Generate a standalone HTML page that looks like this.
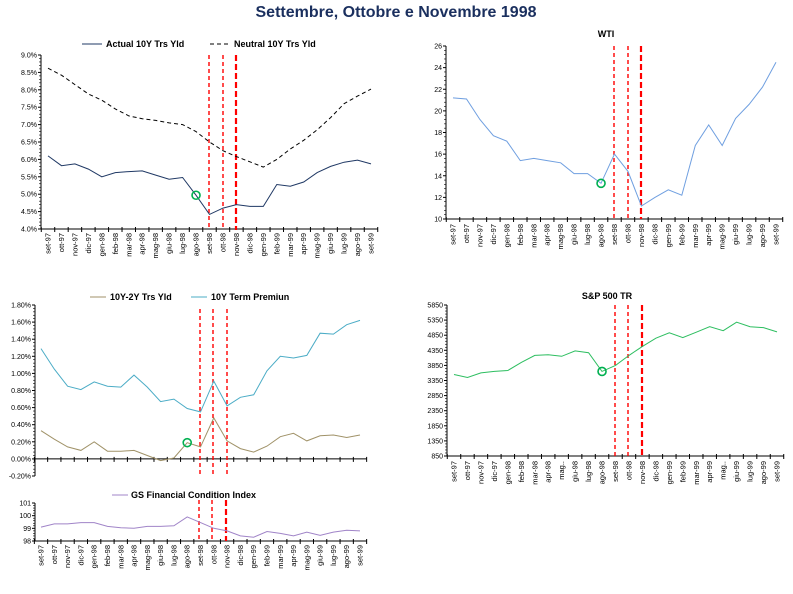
<!DOCTYPE html><html><head><meta charset="utf-8"><style>body{margin:0;background:#fff}svg{display:block;font-family:"Liberation Sans",sans-serif}</style></head><body>
<svg id="s" width="793" height="594" xmlns="http://www.w3.org/2000/svg"></svg>
<script>
const S=document.getElementById('s');let h='';
h+='<text x="396" y="17" text-anchor="middle" font-size="16" font-weight="bold" fill="#1a2f5e">Settembre, Ottobre e Novembre 1998</text>';
const cats=['set-97','ott-97','nov-97','dic-97','gen-98','feb-98','mar-98','apr-98','mag-98','giu-98','lug-98','ago-98','set-98','ott-98','nov-98','dic-98','gen-99','feb-99','mar-99','apr-99','mag-99','giu-99','lug-99','ago-99','set-99'];
function chart(o){
 const X=i=>o.x0+i*(o.x1-o.x0)/24;
 const Y=v=>o.yT+(o.vT-v)/(o.vT-o.vB)*(o.yB-o.yT);
 h+=`<line x1="${o.ax}" y1="${o.yT}" x2="${o.ax}" y2="${o.yB}" stroke="#000" stroke-width="1"/>`;
 const n=Math.round((o.vT-o.vB)/o.step);
 for(let k=0;k<=n;k++){const v=o.vB+k*o.step,y=Y(v);
  h+=`<line x1="${o.ax-3}" y1="${y}" x2="${o.ax}" y2="${y}" stroke="#000"/>`;
  h+=`<text x="${o.ax-4}" y="${y+2.5}" text-anchor="end" font-size="7">${o.fmt(v)}</text>`;
  if(k<n)for(let m=1;m<5;m++){const yy=y-(m/5)*(Y(v)-Y(v+o.step));h+=`<line x1="${o.ax-2}" y1="${yy}" x2="${o.ax}" y2="${yy}" stroke="#000" stroke-width=".6"/>`;}
 }
 const ya=Y(o.xv);const dx=(o.x1-o.x0)/24;
 h+=`<line x1="${o.ax}" y1="${ya}" x2="${o.x1+dx/2}" y2="${ya}" stroke="#000"/>`;
 for(let i=0;i<=25;i++){const x=o.x0-dx/2+i*dx;h+=`<line x1="${x}" y1="${ya-2}" x2="${x}" y2="${ya+3}" stroke="#000"/>`;}
 if(o.labels){cats.forEach((c,i)=>{let t=c;if(o.mag&&(i==8||i==20))t='mag..';h+=`<text transform="translate(${X(i)+2.5},${o.ly}) rotate(-90)" text-anchor="end" font-size="7.5">${t}</text>`;});}
 o.red.forEach((r,j)=>{const th=j==2&&!o.thin;h+=`<line x1="${r}" y1="${o.rT}" x2="${r}" y2="${o.rB}" stroke="#f00" stroke-width="${th?2.2:1.4}" stroke-dasharray="${th?'6,3':'4,3'}"/>`;});
 o.series.forEach(s=>{h+=`<polyline fill="none" stroke="${s.c}" stroke-width="${s.w||1}" ${s.d?'stroke-dasharray="4,3"':''} points="${s.v.map((v,i)=>X(i).toFixed(1)+','+Y(v).toFixed(1)).join(' ')}"/>`;});
 if(o.circ)h+=`<circle cx="${X(11)}" cy="${Y(o.circ)}" r="4" fill="none" stroke="#00b050" stroke-width="1.6"/>`;
}
chart({ax:41,x0:48,x1:371,yT:55,yB:229,vT:9,vB:4,step:.5,xv:4,fmt:v=>v.toFixed(1)+'%',labels:1,ly:233,red:[209,223,236],rT:55,rB:230,circ:4.97,
series:[{c:'#1f3864',v:[6.1,5.82,5.87,5.72,5.5,5.62,5.65,5.67,5.55,5.43,5.48,4.97,4.42,4.6,4.7,4.65,4.65,5.28,5.23,5.35,5.62,5.8,5.92,5.98,5.87]},
{c:'#000',d:1,v:[8.62,8.42,8.15,7.88,7.7,7.45,7.25,7.17,7.12,7.05,7.0,6.8,6.5,6.25,6.08,5.93,5.78,6.0,6.3,6.55,6.85,7.2,7.6,7.82,8.02]}]});
chart({ax:446,x0:453,x1:776,yT:46,yB:219,vT:26,vB:10,step:2,xv:10,fmt:v=>v,labels:1,ly:224,red:[614,628,641],rT:46,rB:219,circ:13.3,
series:[{c:'#6f9fe0',v:[21.2,21.1,19.2,17.7,17.2,15.4,15.6,15.4,15.2,14.2,14.2,13.3,16.0,14.4,11.2,12.0,12.7,12.2,16.8,18.7,16.8,19.3,20.6,22.2,24.5]}]});
chart({ax:35,x0:41,x1:360,yT:305,yB:476,vT:1.8,vB:-.2,step:.2,xv:0,fmt:v=>v.toFixed(2)+'%',labels:0,thin:1,red:[200,213,227],rT:309,rB:477,circ:.19,
series:[{c:'#a09268',v:[.33,.23,.14,.10,.20,.09,.09,.10,.04,-.02,.01,.19,.14,.48,.21,.12,.08,.15,.26,.30,.21,.27,.28,.25,.28]},
{c:'#4bacc6',v:[1.29,1.05,.85,.81,.9,.85,.84,.98,.84,.67,.70,.59,.55,.91,.62,.72,.75,1.03,1.20,1.18,1.21,1.47,1.46,1.57,1.62]}]});
chart({ax:35,x0:41,x1:360,yT:503,yB:541,vT:101,vB:98,step:1,xv:98,fmt:v=>v,labels:1,ly:545,red:[199,212,226],rT:500,rB:541,
series:[{c:'#a084c8',v:[99.1,99.35,99.35,99.45,99.45,99.15,99.05,99.0,99.15,99.15,99.2,99.9,99.45,99.0,98.8,98.4,98.3,98.75,98.6,98.4,98.7,98.45,98.7,98.85,98.8]}]});
chart({ax:447,x0:454,x1:777,yT:305,yB:456,vT:5850,vB:850,step:500,xv:850,fmt:v=>v,labels:1,mag:1,ly:461,red:[615,628,642],rT:305,rB:457,circ:3650,
series:[{c:'#2dbe60',v:[3550,3450,3600,3650,3680,3950,4180,4200,4150,4330,4270,3650,3850,4180,4480,4750,4930,4770,4950,5130,5000,5280,5130,5100,4960]}]});
h+='<line x1="82" y1="44" x2="102" y2="44" stroke="#1f3864"/><text x="106" y="47" font-size="9" font-weight="bold">Actual 10Y Trs Yld</text>';
h+='<line x1="210" y1="44" x2="230" y2="44" stroke="#000" stroke-dasharray="4,3"/><text x="234" y="47" font-size="9" font-weight="bold">Neutral 10Y Trs Yld</text>';
h+='<text x="606" y="37" text-anchor="middle" font-size="9" font-weight="bold">WTI</text>';
h+='<line x1="90" y1="297" x2="106" y2="297" stroke="#a09268"/><text x="110" y="300" font-size="9" font-weight="bold">10Y-2Y Trs Yld</text>';
h+='<line x1="191" y1="297" x2="207" y2="297" stroke="#4bacc6"/><text x="211" y="300" font-size="9" font-weight="bold">10Y Term Premiun</text>';
h+='<line x1="112" y1="495" x2="128" y2="495" stroke="#a084c8"/><text x="131" y="498" font-size="9" font-weight="bold">GS Financial Condition Index</text>';
h+='<text x="607" y="299" text-anchor="middle" font-size="9" font-weight="bold">S&amp;P 500 TR</text>';
S.innerHTML=h;
</script></body></html>
